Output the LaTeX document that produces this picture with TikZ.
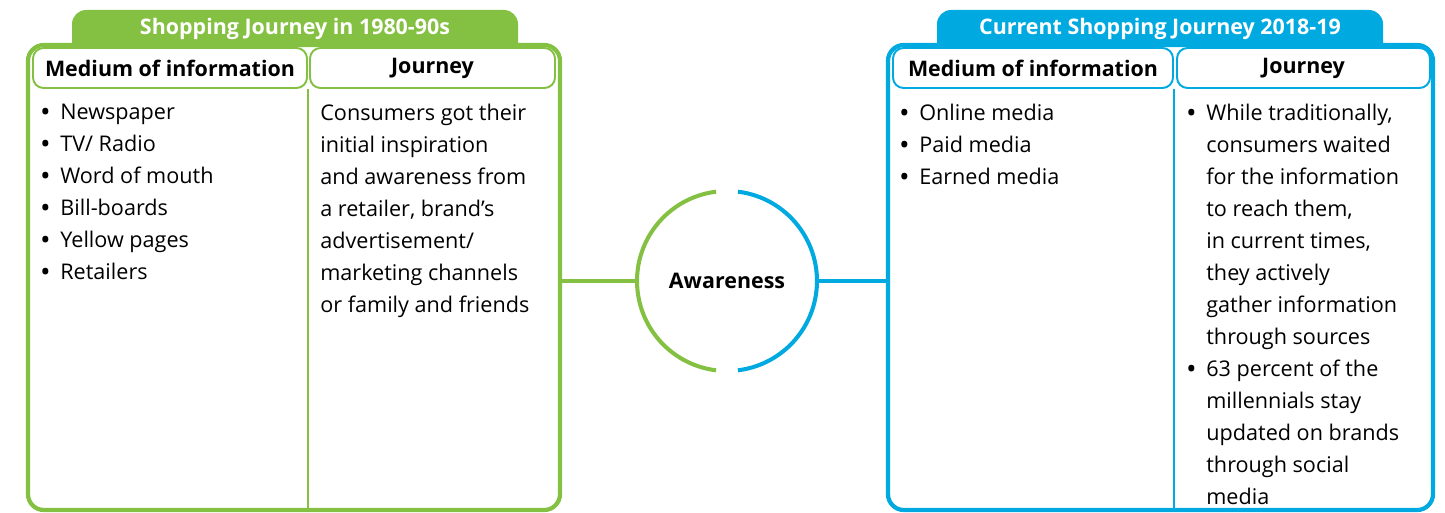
\documentclass[tikz,border=0pt]{standalone}
\usepackage{fontspec}
\setmainfont{Open Sans}
\usetikzlibrary{fit}
\definecolor{dl_green}{RGB}{132,192,65}
\definecolor{dl_blue}{RGB}{0,169,224}
\newcommand{\bul}{\makebox[0.38cm][l]{\textbf{\textbullet}}}
\newcommand{\ind}{\hspace*{0.38cm}}

\begin{document}
\begin{tikzpicture}[x=0.02cm, y=-0.02cm,
  txt/.style={anchor=north west, inner sep=0pt, align=left, font=\fontsize{12.3}{18.2}\selectfont},
  head/.style={font=\fontsize{12.2}{15}\selectfont\bfseries},
  panel/.style={draw=#1, fill=white, line width=2.4pt, rounded corners=9pt, inner sep=0pt},
  cell/.style={draw=#1, line width=1.1pt, rounded corners=6pt, inner sep=0pt},
  link/.style={draw=#1, line width=2.3pt}]
\useasboundingbox (0,0) rectangle (1445,513);

% 1980-90s panel
\fill[dl_green, rounded corners=8pt] (72,10) rectangle (518,70);
\node[head, white] (oldtitle) at (295,29) {Shopping Journey in 1980-90s};
\node[panel=dl_green, fit={(28,45) (560,510)}] (oldbox) {};
\node[cell=dl_green, fit={(33,48) (307,88)}, label={[head]center:Medium of information}] (oldmedhd) {};
\node[cell=dl_green, fit={(310,48) (555,88)}, label={[head]center:Journey}] (oldjrnhd) {};
\draw[dl_green, line width=1.1pt] (oldmedhd.south east) -- (oldmedhd.east |- oldbox.south);
\node[txt] (oldmedtxt) at (41,104) {\bul Newspaper\\ \bul TV/ Radio\\ \bul Word of mouth\\
  \bul Bill-boards\\ \bul Yellow pages\\ \bul Retailers};
\node[txt] (oldjrntxt) at (320,104) {Consumers got their\\ initial inspiration\\ and awareness from\\
  a retailer, brand’s\\ advertisement/\\ marketing channels\\ or family and friends};

% 2018-19 panel
\fill[dl_blue, rounded corners=8pt] (937,10) rectangle (1383,70);
\node[head, white] (newtitle) at (1160,29) {Current Shopping Journey 2018-19};
\node[panel=dl_blue, fit={(888,45) (1433,510)}] (newbox) {};
\node[cell=dl_blue, fit={(893,48) (1173,88)}, label={[head]center:Medium of information}] (newmedhd) {};
\node[cell=dl_blue, fit={(1177,48) (1430,88)}, label={[head]center:Journey}] (newjrnhd) {};
\draw[dl_blue, line width=1.1pt] (newmedhd.south east) -- (newmedhd.east |- newbox.south);
\node[txt] (newmedtxt) at (900,104) {\bul Online media\\ \bul Paid media\\ \bul Earned media};
\node[txt] (newjrntxt) at (1187,104) {\bul While traditionally,\\ \ind consumers waited\\
  \ind for the information\\ \ind to reach them,\\ \ind in current times,\\ \ind they actively\\
  \ind gather information\\ \ind through sources\\ \bul 63 percent of the\\ \ind millennials stay\\
  \ind updated on brands\\ \ind through social\\ \ind media};

% awareness ring
\node[circle, minimum size=3.6cm, inner sep=0pt, outer sep=0pt, head] (aware) at (727,281) {Awareness};
\draw[dl_green, line width=2.3pt] (aware.97) arc[start angle=97, end angle=263, radius=1.8cm];
\draw[dl_blue, line width=2.3pt] (aware.83) arc[start angle=83, end angle=-83, radius=1.8cm];
\draw[link=dl_green] (aware.west -| oldbox.east) -- (aware.west);
\draw[link=dl_blue] (aware.east) -- (aware.east -| newbox.west);
\end{tikzpicture}
\end{document}
